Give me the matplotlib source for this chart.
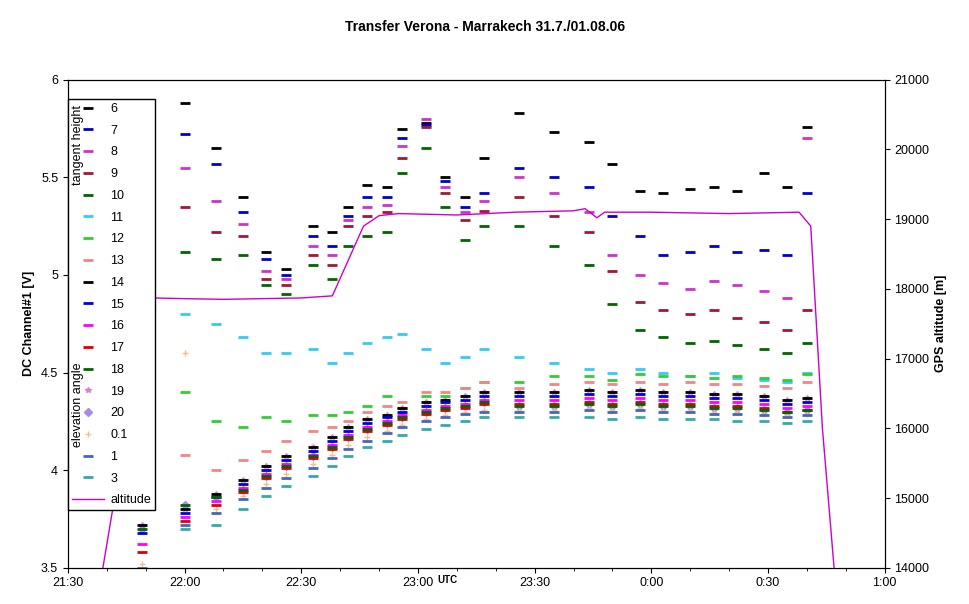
import matplotlib
matplotlib.use("Agg")
import matplotlib.pyplot as plt
from matplotlib.lines import Line2D

plt.rcParams['font.family'] = ['Liberation Sans', 'DejaVu Sans']

# scan times in minutes after 21:30
t = [19,30,38,45,51,56,63,68,72,77,82,86,92,97,102,107,116,125,134,140,147,153,160,166,172,179,185,190]

s6 = [4.53,5.88,5.65,5.40,5.12,5.03,5.25,5.22,5.35,5.46,5.45,5.75,5.78,5.50,5.40,5.60,5.83,5.73,5.68,5.57,5.43,5.42,5.44,5.45,5.43,5.52,5.45,5.76]
s7 = [4.50,5.72,5.57,5.32,5.08,5.00,5.20,5.15,5.30,5.40,5.40,5.70,5.77,5.48,5.35,5.42,5.55,5.50,5.45,5.30,5.20,5.10,5.12,5.15,5.12,5.13,5.10,5.42]
s8 = [4.50,5.55,5.38,5.26,5.02,4.98,5.15,5.10,5.28,5.35,5.36,5.66,5.80,5.45,5.32,5.38,5.50,5.42,5.32,5.10,5.00,4.96,4.93,4.97,4.95,4.92,4.88,5.70]
s9 = [4.52,5.35,5.22,5.20,4.98,4.95,5.10,5.05,5.25,5.30,5.32,5.60,5.76,5.42,5.28,5.33,5.40,5.30,5.22,5.02,4.86,4.82,4.80,4.82,4.78,4.76,4.72,4.82]
s10 = [4.52,5.12,5.08,5.10,4.95,4.90,5.05,4.98,5.15,5.20,5.22,5.52,5.65,5.35,5.18,5.25,5.25,5.15,5.05,4.85,4.72,4.68,4.65,4.66,4.64,4.62,4.60,4.65]
s11 = [4.50,4.80,4.75,4.68,4.60,4.60,4.62,4.55,4.60,4.65,4.68,4.70,4.62,4.55,4.58,4.62,4.58,4.55,4.52,4.50,4.52,4.50,4.48,4.50,4.47,4.46,4.45,4.50]
s12 = [4.10,4.40,4.25,4.22,4.27,4.25,4.28,4.28,4.30,4.33,4.38,4.32,4.38,4.38,4.42,4.45,4.45,4.48,4.48,4.46,4.49,4.48,4.48,4.47,4.48,4.47,4.46,4.49]
s13 = [3.95,4.08,4.00,4.05,4.10,4.15,4.20,4.22,4.25,4.30,4.33,4.35,4.40,4.40,4.42,4.45,4.42,4.44,4.45,4.44,4.45,4.44,4.45,4.44,4.44,4.43,4.42,4.45]
s14 = [3.72,3.80,3.88,3.95,4.02,4.07,4.12,4.17,4.22,4.26,4.28,4.32,4.35,4.36,4.38,4.40,4.40,4.40,4.41,4.40,4.41,4.40,4.40,4.39,4.39,4.38,4.36,4.37]
s15 = [3.68,3.78,3.86,3.93,4.00,4.05,4.10,4.15,4.20,4.24,4.27,4.30,4.33,4.35,4.36,4.38,4.38,4.38,4.39,4.38,4.39,4.38,4.38,4.37,4.37,4.36,4.34,4.35]
s16 = [3.62,3.76,3.84,3.91,3.98,4.03,4.08,4.13,4.18,4.22,4.25,4.28,4.31,4.33,4.34,4.36,4.36,4.36,4.37,4.36,4.37,4.36,4.36,4.35,4.35,4.34,4.32,4.33]
s17 = [3.58,3.74,3.82,3.89,3.96,4.01,4.06,4.11,4.16,4.20,4.23,4.26,4.29,4.31,4.32,4.34,4.34,4.34,4.35,4.34,4.35,4.34,4.34,4.33,4.33,4.32,4.30,4.31]
s18 = [3.70,3.82,3.86,3.90,3.97,4.02,4.07,4.12,4.17,4.21,4.24,4.27,4.30,4.32,4.33,4.35,4.33,4.33,4.34,4.33,4.34,4.33,4.33,4.32,4.32,4.31,4.30,4.31]
s19 = [3.72,3.80,3.88,3.95,4.02,4.07,4.12,4.17,4.22,4.26,4.28,4.32,4.35,4.36,4.38,4.40,4.40,4.40,4.41,4.40,4.41,4.40,4.40,4.39,4.39,4.38,4.36,4.37]
s20 = [3.70,3.82,3.86,3.90,3.97,4.02,4.07,4.12,4.17,4.21,4.24,4.27,4.30,4.32,4.33,4.35,4.33,4.33,4.34,4.33,4.34,4.33,4.33,4.32,4.32,4.31,4.30,4.31]
s01 = [3.52,4.60,3.80,3.87,3.93,3.98,4.03,4.08,4.13,4.17,4.20,4.23,4.26,4.28,4.30,4.31,4.31,4.31,4.32,4.31,4.32,4.31,4.31,4.30,4.30,4.29,4.28,4.29]
s1 = [3.50,3.72,3.78,3.85,3.91,3.96,4.01,4.06,4.11,4.15,4.19,4.22,4.25,4.27,4.29,4.30,4.30,4.30,4.31,4.30,4.31,4.30,4.30,4.29,4.29,4.28,4.27,4.28]
s3 = [3.85,3.70,3.72,3.80,3.87,3.92,3.97,4.02,4.07,4.12,4.15,4.18,4.21,4.23,4.25,4.27,4.27,4.27,4.27,4.26,4.27,4.26,4.26,4.26,4.25,4.25,4.24,4.25]

alt_t = [9,12,15,18,20,22,30,40,50,60,68,72,76,80,85,100,115,130,133,136,138,150,170,188,191,194,197]
alt_v = [14000,15000,16500,17600,17850,17870,17860,17850,17860,17870,17900,18400,18900,19050,19080,19060,19100,19120,19150,19020,19100,19100,19080,19100,18900,16000,14000]

series = [
    ("6", s6, "#000000", "_"), ("7", s7, "#0000cc", "_"), ("8", s8, "#cc33cc", "_"),
    ("9", s9, "#a01838", "_"), ("10", s10, "#006600", "_"), ("11", s11, "#33ccee", "_"),
    ("12", s12, "#33cc33", "_"), ("13", s13, "#ee8888", "_"), ("14", s14, "#000000", "_"),
    ("15", s15, "#0000dd", "_"), ("16", s16, "#ff00ff", "_"), ("17", s17, "#dd0000", "_"),
    ("18", s18, "#006600", "_"), ("19", s19, "#cc88cc", "*"), ("20", s20, "#aa88ee", "D"),
    ("0.1", s01, "#f0c090", "+"), ("1", s1, "#4466bb", "_"), ("3", s3, "#33aaaa", "_"),
]

fig = plt.figure(figsize=(9.7, 6.04), dpi=100)
ax = fig.add_axes([0.070, 0.060, 0.842, 0.808])
handles = []
for name, vals, col, mk in series:
    if mk == "_":
        kw = dict(ms=7, mew=2)
        z = 3
    else:
        kw = dict(ms=4, mew=1)
        z = 1
    ax.plot(t, vals, linestyle="none", marker=mk, color=col, zorder=z, **kw)
    handles.append(Line2D([], [], linestyle="none", marker=mk, color=col, label=name, **kw))

ax.set_xlim(0, 210)
ax.set_ylim(3.5, 6)
ax.set_xticks([0, 30, 60, 90, 120, 150, 180, 210])
ax.set_xticklabels(["21:30", "22:00", "22:30", "23:00", "23:30", "0:00", "0:30", "1:00"], fontsize=9)
ax.set_xticks(range(0, 211, 10), minor=True)
ax.set_yticks([3.5, 4, 4.5, 5, 5.5, 6])
ax.set_yticklabels(["3.5", "4", "4.5", "5", "5.5", "6"], fontsize=9)
ax.set_ylabel("DC Channel#1 [V]", fontsize=9, fontweight="bold")
ax.tick_params(direction="out")

ax2 = ax.twinx()
ax2.plot(alt_t, alt_v, color="#cc00cc", lw=1)
handles.append(Line2D([], [], color="#cc00cc", lw=1, label="altitude"))
ax2.set_ylim(14000, 21000)
ax2.set_yticks(range(14000, 21001, 1000))
ax2.tick_params(labelsize=9)
ax2.set_ylabel("GPS altitude [m]", fontsize=9, fontweight="bold")

leg = ax2.legend(handles=handles, loc="upper left", bbox_to_anchor=(0.0, 0.96), fontsize=9,
                 frameon=True, fancybox=False, edgecolor="black", framealpha=1,
                 borderpad=0.3, labelspacing=0.78, handlelength=2.6, handletextpad=0.5,
                 borderaxespad=0.0)
leg.get_frame().set_linewidth(1)
leg.set_zorder(5)

fig.text(0.5, 0.948, "Transfer Verona - Marrakech 31.7./01.08.06", ha="center", fontsize=10, fontweight="bold")
fig.text(0.461, 0.035, "UTC", ha="center", fontsize=7, fontweight="bold")
fig.text(0.0805, 0.76, "tangent height", rotation=90, ha="center", va="center", fontsize=9, zorder=10)
fig.text(0.0805, 0.33, "elevation angle", rotation=90, ha="center", va="center", fontsize=9, zorder=10)

fig.savefig("out.png", dpi=100)
